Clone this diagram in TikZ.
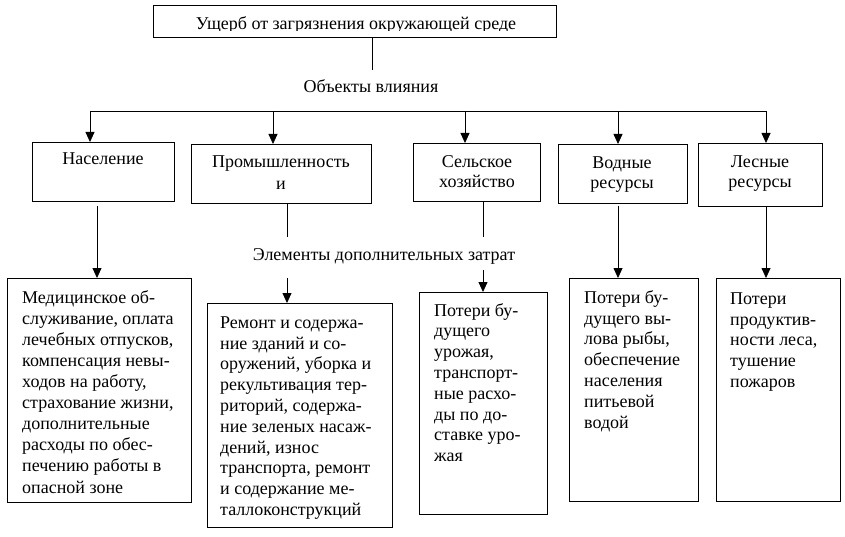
\documentclass[tikz,border=0pt]{standalone}
\usepackage{fontspec}
\setmainfont{Liberation Serif}
\usetikzlibrary{arrows.meta,calc}
\begin{document}
\begin{tikzpicture}[x=1pt,y=-1pt,
  box/.style={draw, line width=0.8pt, inner sep=0pt, anchor=north west},
  lbl/.style={font=\fontsize{18}{20.8}\selectfont, inner sep=0pt},
  ctr/.style={lbl, align=center, anchor=base},
  lft/.style={lbl, align=left, anchor=base west},
  ln/.style={line width=0.8pt},
  arr/.style={line width=0.8pt, -{Triangle[width=9pt,length=10pt]}}]
\useasboundingbox (0,0) rectangle (845,537);

% top box
\node[box, minimum width=403pt, minimum height=32pt] (top) at (153,5) {};
\begin{scope}
  \clip (153,5) rectangle (556,31);
  \node[ctr] (toptxt) at (356,30) {Ущерб от загрязнения окружающей среде};
\end{scope}

% first row boxes
\node[box, minimum width=142pt, minimum height=59pt] (pop) at (32,142) {};
\node[box, minimum width=180pt, minimum height=59pt] (ind) at (191,144) {};
\node[box, minimum width=127pt, minimum height=58pt] (agr) at (413,143) {};
\node[box, minimum width=129pt, minimum height=59pt] (wat) at (558,144) {};
\node[box, minimum width=124pt, minimum height=63pt] (for) at (698,143) {};

% (anchor base = baseline of the last line)
\node[ctr] (poptxt) at (103,165) {Население};
\node[ctr, font=\fontsize{18}{22}\selectfont] (indtxt) at (281,190) {Промышленность\\и};
\node[ctr, font=\fontsize{18}{19.5}\selectfont] (agrtxt) at (477,187.5) {Сельское\\хозяйство};
\node[ctr, font=\fontsize{18}{20}\selectfont] (wattxt) at (622,189) {Водные\\ресурсы};
\node[ctr, font=\fontsize{18}{20}\selectfont] (fortxt) at (760,188) {Лесные\\ресурсы};

% second row boxes
\node[box, minimum width=184pt, minimum height=224pt] (med) at (7,278) {};
\node[box, minimum width=185pt, minimum height=224pt] (rem) at (207,303) {};
\node[box, minimum width=128pt, minimum height=222pt] (urj) at (419,292) {};
\node[box, minimum width=129pt, minimum height=223pt] (vyl) at (569,278) {};
\node[box, minimum width=124pt, minimum height=223pt] (prd) at (716,278) {};

\node[lft, font=\fontsize{18}{21.1}\selectfont] (medtxt) at (22,493) {Медицинское об-\\служивание, оплата\\лечебных отпусков,\\компенсация невы-\\ходов на работу,\\страхование жизни,\\дополнительные\\расходы по обес-\\печению работы в\\опасной зоне};
\node[lft] (remtxt) at (220,515.5) {Ремонт и содержа-\\ние зданий и со-\\оружений, уборка и\\рекультивация тер-\\риторий, содержа-\\ние зеленых насаж-\\дений, износ\\транспорта, ремонт\\и содержание ме-\\таллоконструкций};
\node[lft] (urjtxt) at (434,461.7) {Потери бу-\\дущего\\урожая,\\транспорт-\\ные расхо-\\ды по до-\\ставке уро-\\жая};
\node[lft] (vyltxt) at (584,428) {Потери бу-\\дущего вы-\\лова рыбы,\\обеспечение\\населения\\питьевой\\водой};
\node[lft] (prdtxt) at (730,387.5) {Потери\\продуктив-\\ности леса,\\тушение\\пожаров};

% top connector and label
\coordinate (topout) at (372,70);
\draw[ln] (topout |- top.south) -- (topout);
\node[ctr] (obj) at (371,93) {Объекты влияния};

% bus
\coordinate (busL) at (90,111);
\coordinate (busR) at (766,111);
\draw[ln] (busL) -- (busR);
\coordinate (b2) at (273,111);
\coordinate (b3) at (465,111);
\coordinate (b4) at (618,111);
\draw[arr] (busL) -- (busL |- pop.north);
\draw[arr] (b2) -- (b2 |- ind.north);
\draw[arr] (b3) -- (b3 |- agr.north);
\draw[arr] (b4) -- (b4 |- wat.north);
\draw[arr] (busR) -- (busR |- for.north);

% row 1 -> row 2
\coordinate (p1) at (97,206);
\draw[arr] (p1) -- (p1 |- med.north);
\coordinate (w1) at (618,206);
\draw[arr] (w1) -- (w1 |- vyl.north);
\coordinate (f1) at (766,206);
\draw[arr] (f1) -- (f1 |- prd.north);

\coordinate (i1) at (287,237);
\draw[ln] (i1 |- ind.south) -- (i1);
\coordinate (a1) at (483,237);
\draw[ln] (a1 |- agr.south) -- (a1);
\node[ctr] (elem) at (384,260) {Элементы дополнительных затрат};
\coordinate (i2) at (287,278);
\draw[arr] (i2) -- (i2 |- rem.north);
\coordinate (a2) at (483,270);
\draw[arr] (a2) -- (a2 |- urj.north);
\end{tikzpicture}
\end{document}
